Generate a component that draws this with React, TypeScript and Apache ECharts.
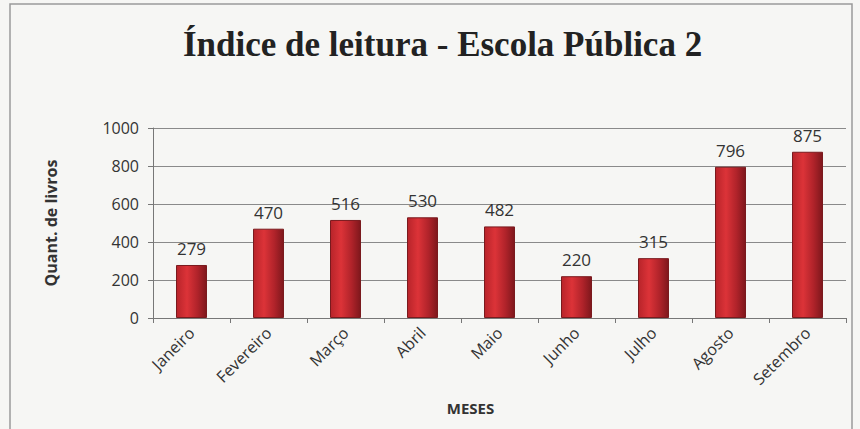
import React, { useEffect, useRef } from "react";
import * as echarts from "echarts";

const categories = ["Janeiro", "Fevereiro", "Março", "Abril", "Maio", "Junho", "Julho", "Agosto", "Setembro"];
const values = [279, 470, 516, 530, 482, 220, 315, 796, 875];
const yTicks = { min: 0, max: 1000, interval: 200 };

export default function App() {
  const ref = useRef<HTMLDivElement>(null);
  useEffect(() => {
    if (!ref.current) return;
    const chart = echarts.init(ref.current, undefined, { renderer: "svg" });
    const labelFont = "'Open Sans', 'Noto Sans', sans-serif";
    chart.setOption({
      animation: false,
      backgroundColor: "#f6f6f4",
      title: {
        text: "Índice de leitura - Escola Pública 2",
        left: 178,
        top: 22,
        textStyle: {
          fontFamily: "'Liberation Serif', 'DejaVu Serif', serif",
          fontWeight: "bold",
          fontSize: 35,
          color: "#222",
        },
      },
      graphic: [
        {
          type: "rect",
          shape: { x: 10, y: 4, width: 842, height: 432 },
          style: { fill: "none", stroke: "#9a9a9a", lineWidth: 1.5 },
          silent: true,
        },
      ],
      grid: { left: 153, right: 14, top: 128, bottom: 111 },
      xAxis: {
        type: "category",
        data: categories,
        name: "MESES",
        nameLocation: "middle",
        nameGap: 82,
        nameTextStyle: {
          fontFamily: labelFont,
          fontWeight: "bold",
          fontSize: 15,
          color: "#333",
          padding: [0, 58, 0, 0],
        },
        axisLine: { lineStyle: { color: "#777" } },
        axisTick: { show: true, alignWithLabel: false, length: 5, lineStyle: { color: "#777" } },
        axisLabel: { rotate: 45, fontFamily: labelFont, fontSize: 16, color: "#333", margin: 12, interval: 0 },
      },
      yAxis: {
        type: "value",
        min: yTicks.min,
        max: yTicks.max,
        interval: yTicks.interval,
        name: "Quant. de livros",
        nameLocation: "middle",
        nameGap: 94,
        nameRotate: 90,
        nameTextStyle: { fontFamily: labelFont, fontWeight: "bold", fontSize: 16, color: "#333" },
        axisLine: { show: true, lineStyle: { color: "#777" } },
        axisTick: { show: true, length: 5, lineStyle: { color: "#777" } },
        axisLabel: {
          fontFamily: labelFont,
          fontSize: 16,
          color: "#333",
          margin: 14,
          formatter: (v: number) => String(v),
        },
        splitLine: { lineStyle: { color: "#8a8a8a", width: 1 } },
      },
      series: [
        {
          type: "bar",
          data: values,
          barWidth: 31,
          itemStyle: {
            borderColor: "#7a1a1e",
            borderWidth: 1,
            color: new echarts.graphic.LinearGradient(0, 0, 1, 0, [
              { offset: 0, color: "#b8242a" },
              { offset: 0.35, color: "#dc3338" },
              { offset: 0.7, color: "#b0232a" },
              { offset: 1, color: "#7e171c" },
            ]),
          },
          label: {
            show: true,
            position: "top",
            distance: 8,
            fontFamily: labelFont,
            fontSize: 17,
            color: "#333",
          },
        },
      ],
    });
    return () => chart.dispose();
  }, []);
  return (
    <div
      ref={ref}
      style={{ position: "fixed", left: 0, top: 0, width: 860, height: 429 }}
    />
  );
}
